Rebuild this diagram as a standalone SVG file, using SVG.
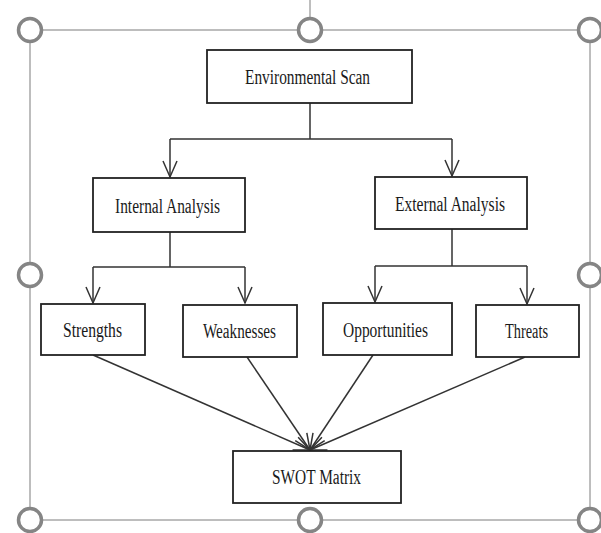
<svg xmlns="http://www.w3.org/2000/svg" width="601" height="533" viewBox="0 0 601 533">
  <style>
    .frame { fill: none; stroke: #a8a8a8; stroke-width: 1.5; }
    .handle { fill: #ffffff; stroke: #858585; stroke-width: 3.5; }
    .box { fill: #ffffff; stroke: #222222; stroke-width: 1.8; }
    .lbl { font-family: "Liberation Serif", "Times New Roman", serif; font-size: 20px; fill: #1a1a1a; text-anchor: start; }
    .conn { fill: none; stroke: #333333; stroke-width: 1.5; }
  </style>
  <defs>
    <marker id="vArrow" markerUnits="userSpaceOnUse" viewBox="-18 -9 20 18" refX="0" refY="0" markerWidth="20" markerHeight="18" orient="auto">
      <path d="M-16,-7 L0,0 L-16,7" fill="none" stroke="#333333" stroke-width="1.5"/>
    </marker>
  </defs>
  <rect width="601" height="533" fill="#ffffff"/>

  <g id="selection-frame">
    <line class="frame" x1="310" y1="0" x2="310" y2="18"/>
    <rect class="frame" x="30" y="30" width="560" height="490"/>
    <circle class="handle" cx="30" cy="30" r="11.5"/>
    <circle class="handle" cx="310" cy="30" r="11.5"/>
    <circle class="handle" cx="590" cy="30" r="11.5"/>
    <circle class="handle" cx="30" cy="275" r="11.5"/>
    <circle class="handle" cx="590" cy="275" r="11.5"/>
    <circle class="handle" cx="30" cy="520" r="11.5"/>
    <circle class="handle" cx="310" cy="520" r="11.5"/>
    <circle class="handle" cx="590" cy="520" r="11.5"/>
  </g>

  <g id="connectors">
    <path class="conn" d="M310,103 V139 M170,139 H452"/>
    <line class="conn" x1="170" y1="139" x2="170" y2="177" marker-end="url(#vArrow)"/>
    <line class="conn" x1="452" y1="139" x2="452" y2="176" marker-end="url(#vArrow)"/>
    <path class="conn" d="M170,232 V267 M93,267 H245"/>
    <line class="conn" x1="93" y1="267" x2="93" y2="303" marker-end="url(#vArrow)"/>
    <line class="conn" x1="245" y1="267" x2="245" y2="303" marker-end="url(#vArrow)"/>
    <path class="conn" d="M452,229 V266 M375,266 H527"/>
    <line class="conn" x1="375" y1="266" x2="375" y2="302" marker-end="url(#vArrow)"/>
    <line class="conn" x1="527" y1="266" x2="527" y2="304" marker-end="url(#vArrow)"/>
    <line class="conn" x1="93" y1="355" x2="310" y2="450" marker-end="url(#vArrow)"/>
    <line class="conn" x1="247" y1="357" x2="310" y2="450" marker-end="url(#vArrow)"/>
    <line class="conn" x1="373" y1="355" x2="310" y2="450" marker-end="url(#vArrow)"/>
    <line class="conn" x1="525" y1="357" x2="310" y2="450" marker-end="url(#vArrow)"/>
  </g>

  <g id="environmental-scan">
    <rect class="box" x="207" y="50" width="205" height="53"/>
    <text class="lbl" x="245" y="84" textLength="125" lengthAdjust="spacingAndGlyphs">Environmental Scan</text>
  </g>
  <g id="internal-analysis">
    <rect class="box" x="93" y="178" width="152" height="54"/>
    <text class="lbl" x="115" y="213" textLength="105" lengthAdjust="spacingAndGlyphs">Internal Analysis</text>
  </g>
  <g id="external-analysis">
    <rect class="box" x="375" y="177" width="152" height="52"/>
    <text class="lbl" x="395" y="211" textLength="110" lengthAdjust="spacingAndGlyphs">External Analysis</text>
  </g>
  <g id="strengths">
    <rect class="box" x="41" y="304" width="104" height="51"/>
    <text class="lbl" x="63" y="337" textLength="59" lengthAdjust="spacingAndGlyphs">Strengths</text>
  </g>
  <g id="weaknesses">
    <rect class="box" x="183" y="305" width="114" height="52"/>
    <text class="lbl" x="203" y="338" textLength="73" lengthAdjust="spacingAndGlyphs">Weaknesses</text>
  </g>
  <g id="opportunities">
    <rect class="box" x="323" y="303" width="129" height="52"/>
    <text class="lbl" x="343" y="337" textLength="85" lengthAdjust="spacingAndGlyphs">Opportunities</text>
  </g>
  <g id="threats">
    <rect class="box" x="476" y="305" width="103" height="52"/>
    <text class="lbl" x="505" y="338" textLength="43" lengthAdjust="spacingAndGlyphs">Threats</text>
  </g>
  <g id="swot-matrix">
    <rect class="box" x="233" y="451" width="168" height="52"/>
    <text class="lbl" x="272" y="484" textLength="89" lengthAdjust="spacingAndGlyphs">SWOT Matrix</text>
  </g>
</svg>
